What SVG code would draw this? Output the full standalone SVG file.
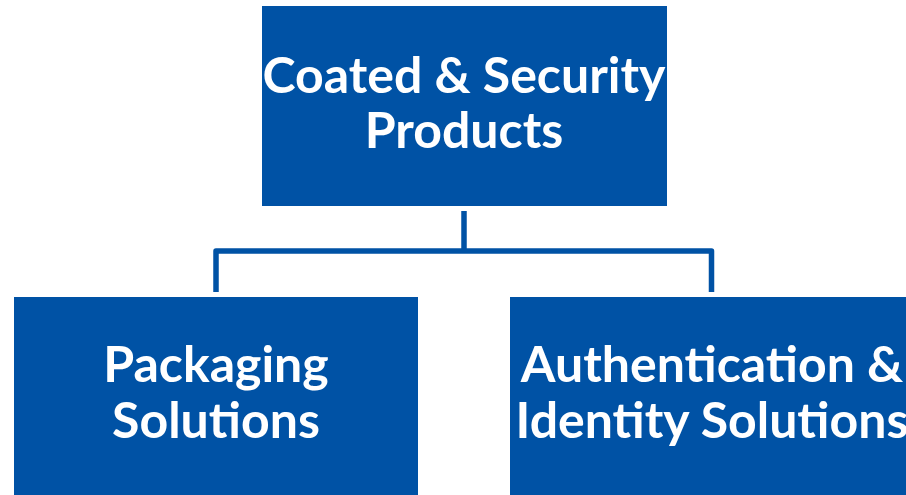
<svg xmlns="http://www.w3.org/2000/svg" width="906" height="495" viewBox="0 0 906 495">
  <style>
    .box { fill: #0052A5; }
    .label { fill: #ffffff; font-family: Lato, "Open Sans", "Liberation Sans", sans-serif; font-weight: 700; font-size: 50px; text-anchor: middle; }
    .link { fill: none; stroke: #0052A5; stroke-width: 5.5; stroke-linejoin: round; }
  </style>
  <rect width="906" height="495" fill="#ffffff"/>

  <!-- tree connectors -->
  <g id="connectors">
    <path class="link" d="M464 211 V251"/>
    <path class="link" d="M216 292 V251 H711.5 V292"/>
  </g>

  <g id="node-coated-security">
    <rect class="box" x="262" y="6" width="405" height="200"/>
    <text class="label" x="464" y="93">Coated &amp; Security</text>
    <text class="label" x="464" y="148">Products</text>
  </g>

  <g id="node-packaging">
    <rect class="box" x="14" y="297" width="404" height="198"/>
    <text class="label" x="216" y="382">Packaging</text>
    <text class="label" x="216" y="438">Solutions</text>
  </g>

  <g id="node-authentication">
    <rect class="box" x="510" y="297" width="404" height="198"/>
    <text class="label" x="712" y="382">Authentication &amp;</text>
    <text class="label" x="712" y="438">Identity Solutions</text>
  </g>
</svg>
